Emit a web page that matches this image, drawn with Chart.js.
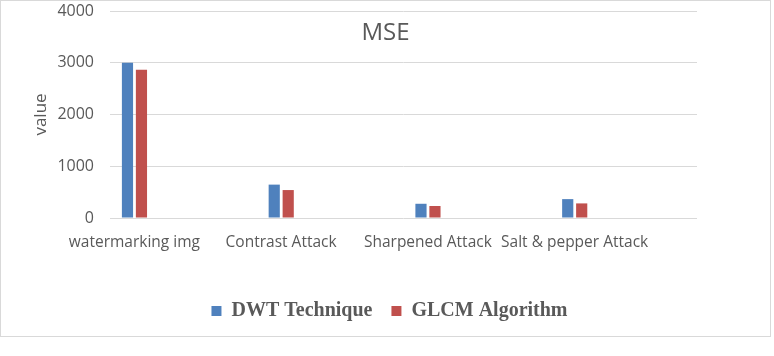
<!DOCTYPE html>
<html>
<head>
<meta charset="utf-8">
<script src="https://cdn.jsdelivr.net/npm/chart.js@4.4.0/dist/chart.umd.min.js"></script>
<style>
  body { margin: 0; background: #fff; }
  #box { position: absolute; left: 0; top: 0; width: 769px; height: 335px; border: 1px solid #d9d9d9; }
</style>
</head>
<body>
<div id="box"><canvas id="mse" width="769" height="335"></canvas></div>
<script>
const categories = ['watermarking img', 'Contrast Attack', 'Sharpened Attack', 'Salt & pepper Attack'];
const dwt_values = [3000, 645, 275, 365];
const glcm_values = [2865, 540, 232, 282];
const y_ticks = [0, 1000, 2000, 3000, 4000];

const text_color = '#595959';
const grid_color = '#d9d9d9';

// the bars in the original sit to the left of each category, like a group with empty series after them
const spacer_sets = [];
for (let i = 0; i < 7; i++) {
    spacer_sets.push({ label: '', data: [], backgroundColor: 'rgba(0,0,0,0)' });
}

// "MSE" is drawn inside the plot area, so a small plugin instead of the title box
const title_inside = {
    id: 'title_inside',
    afterDraw(chart) {
        const ctx = chart.ctx;
        ctx.save();
        ctx.font = '24px "Open Sans"';
        ctx.fillStyle = text_color;
        ctx.textAlign = 'center';
        ctx.textBaseline = 'middle';
        ctx.fillText('MSE', chart.width / 2, 32);
        ctx.restore();
    }
};

const ctx_mse = document.getElementById('mse').getContext('2d');
const mse_chart = new Chart(ctx_mse, {
    type: 'bar',
    data: {
        labels: categories,
        datasets: [
            { label: 'DWT Technique', data: dwt_values, backgroundColor: '#4f81bd' },
            { label: 'GLCM Algorithm', data: glcm_values, backgroundColor: '#c0504d' },
            ...spacer_sets
        ]
    },
    options: {
        responsive: false,
        animation: false,
        categoryPercentage: 0.857,
        barPercentage: 0.8,
        layout: { padding: { left: 8, right: 0, top: 10, bottom: 5 } },
        plugins: {
            tooltip: { enabled: false },
            legend: {
                position: 'bottom',
                labels: {
                    filter: item => item.datasetIndex < 2,
                    boxWidth: 10,
                    boxHeight: 10,
                    padding: 19,
                    color: text_color,
                    font: { family: '"Liberation Serif"', size: 20, weight: 'bold' }
                }
            }
        },
        scales: {
            x: {
                grid: { display: false, drawTicks: false },
                border: { display: false },
                ticks: {
                    autoSkip: false,
                    maxRotation: 0,
                    padding: 15,
                    labelOffset: -49,
                    color: text_color,
                    font: { family: '"Open Sans"', size: 15.5 }
                },
                afterFit: s => { s.height = 64; s.paddingLeft = 0; s.paddingRight = 0; }
            },
            y: {
                min: 0,
                max: 4000,
                afterBuildTicks: s => { s.ticks = y_ticks.map(v => ({ value: v })); },
                grid: { color: grid_color, drawTicks: false },
                border: { display: false },
                ticks: {
                    padding: 16,
                    color: text_color,
                    font: { family: '"Open Sans"', size: 16 },
                    callback: v => String(v)
                },
                title: {
                    display: true,
                    text: 'value',
                    color: text_color,
                    padding: { top: 22, bottom: 0 },
                    font: { family: '"Open Sans"', size: 17 }
                },
                afterFit: s => { s.width = 101; s.paddingTop = 0; s.paddingBottom = 0; }
            },
            y2: {
                position: 'right',
                grid: { display: false, drawTicks: false },
                border: { display: false },
                ticks: { display: false },
                afterFit: s => { s.width = 73; s.paddingTop = 0; s.paddingBottom = 0; }
            }
        }
    },
    plugins: [title_inside]
});
</script>
</body>
</html>
